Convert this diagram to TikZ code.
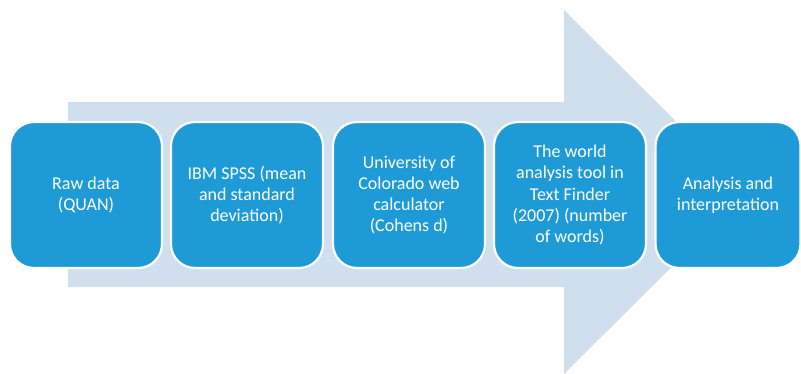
\documentclass[tikz,border=0pt]{standalone}
\usepackage{fontspec}
\setmainfont{Carlito}
\definecolor{boxblue}{HTML}{1E9BD7}
\definecolor{arrowblue}{HTML}{CFDFEE}
\begin{document}
\begin{tikzpicture}[x=1pt,y=-1pt,
  stage/.style={rectangle, rounded corners=24pt, fill=boxblue, draw=white, line width=2.2pt,
    minimum height=146pt, text=white, align=center, inner sep=0pt,
    font=\fontsize{18pt}{21.3pt}\selectfont}]
\useasboundingbox (0,0) rectangle (801,373);
\fill[arrowblue] (68,102) -- (564,102) -- (564,10) -- (747,192) -- (564,374) -- (564,287) -- (68,287) -- cycle;
\node[stage, minimum width=152pt] (s1) at (86,195) {Raw data\\(QUAN)};
\node[stage, minimum width=152pt] (s2) at (247,195) {IBM SPSS (mean\\and standard\\deviation)};
\node[stage, minimum width=152pt] (s3) at (409,195) {University of\\Colorado web\\calculator\\(Cohens d)};
\node[stage, minimum width=152pt] (s4) at (570,195) {The world\\analysis tool in\\Text Finder\\(2007) (number\\of words)};
\node[stage, minimum width=145pt] (s5) at (728,195) {Analysis and\\interpretation};
\end{tikzpicture}
\end{document}
